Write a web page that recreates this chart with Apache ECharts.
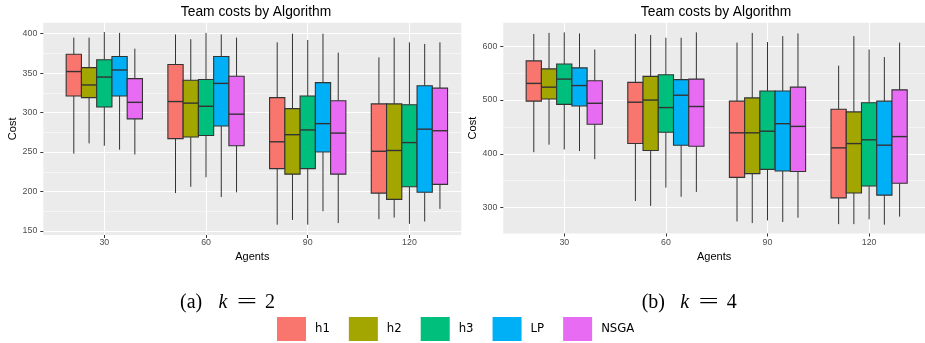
<!DOCTYPE html>
<html>
<head>
<meta charset="utf-8">
<script src="https://cdn.jsdelivr.net/npm/echarts@6/dist/echarts.min.js"></script>
<style>
  html, body { margin: 0; padding: 0; background: #fff; }
  #chart { width: 925px; height: 343px; }
</style>
</head>
<body>
<div id="chart"></div>
<script>
const agents = ['30', '60', '90', '120']
const algorithms = ['h1', 'h2', 'h3', 'LP', 'NSGA']
const colors = ['#F8766D', '#A3A500', '#00BF7D', '#00B0F6', '#E76BF3']
const kValues = ['2', '4']

// box stats per agents level: [min, Q1, median, Q3, max]
// (a) k = 2
const k2H1 = [[248, 321, 352, 374, 395], [198, 267, 314, 361, 399], [158, 229, 263, 319, 389], [165, 198, 251, 311, 370]]
const k2H2 = [[261, 319, 335, 357, 395], [206, 269, 312, 341, 393], [164, 222, 272, 305, 400], [167, 190, 252, 311, 395]]
const k2H3 = [[258, 307, 345, 367, 402], [218, 271, 308, 342, 401], [158, 229, 278, 321, 392], [159, 206, 262, 310, 389]]
const k2LP = [[253, 321, 354, 371, 401], [193, 283, 337, 371, 399], [175, 250, 286, 338, 400], [162, 199, 279, 334, 387]]
const k2NSGA = [[247, 292, 313, 343, 381], [199, 258, 298, 346, 395], [160, 222, 274, 315, 376], [178, 209, 277, 331, 389]]

// (b) k = 4
const k4H1 = [[403, 498, 531, 573, 623], [312, 419, 496, 533, 623], [274, 356, 439, 498, 607], [269, 318, 411, 483, 564]]
const k4H2 = [[417, 502, 524, 558, 625], [303, 406, 500, 544, 621], [271, 363, 439, 504, 625], [269, 327, 419, 478, 619]]
const k4H3 = [[408, 492, 539, 567, 626], [337, 440, 486, 547, 616], [276, 371, 442, 517, 608], [278, 340, 426, 495, 594]]
const k4LP = [[405, 489, 527, 560, 624], [320, 416, 509, 538, 616], [273, 368, 456, 517, 619], [268, 323, 416, 498, 580]]
const k4NSGA = [[390, 455, 494, 536, 594], [329, 414, 488, 539, 626], [281, 367, 451, 524, 624], [283, 345, 432, 519, 607]]

const yTicksK2 = [150, 200, 250, 300, 350, 400]
const yMinorK2 = [175, 225, 275, 325, 375]
const yTicksK4 = [300, 400, 500, 600]
const yMinorK4 = [350, 450, 550]
const xTicks = [1, 2, 3, 4]

const k2Stats = [k2H1, k2H2, k2H3, k2LP, k2NSGA]
const k4Stats = [k4H1, k4H2, k4H3, k4LP, k4NSGA]

const chart = echarts.init(document.getElementById('chart'))

const FONT = 'Liberation Sans, Arial, sans-serif'
const dodge = 0.15 // one box width, in category units

const renderBox = (params, api) => {
  const x = api.value(0)
  const half = dodge / 2
  const top = api.coord([x, api.value(5)])
  const q3 = api.coord([x - half, api.value(4)])
  const med = api.coord([x, api.value(3)])
  const q1 = api.coord([x + half, api.value(2)])
  const bot = api.coord([x, api.value(1)])
  const line = { stroke: '#333', lineWidth: 1 }
  return {
    type: 'group',
    children: [
      { type: 'line', shape: { x1: top[0], y1: top[1], x2: top[0], y2: q3[1] }, style: line },
      { type: 'line', shape: { x1: bot[0], y1: q1[1], x2: bot[0], y2: bot[1] }, style: line },
      {
        type: 'rect',
        shape: { x: q3[0], y: q3[1], width: q1[0] - q3[0], height: q1[1] - q3[1] },
        style: { fill: api.visual('color'), stroke: '#333', lineWidth: 1.1 }
      },
      { type: 'line', shape: { x1: q3[0], y1: med[1], x2: q1[0], y2: med[1] }, style: { stroke: '#333', lineWidth: 1.4 } }
    ]
  }
}

const boxSeries = (stats, panel) => algorithms.map((name, s) => ({
  name,
  type: 'custom',
  xAxisIndex: panel,
  yAxisIndex: panel * 2,
  itemStyle: { color: colors[s] },
  renderItem: renderBox,
  encode: { x: 0, y: [1, 2, 3, 4, 5] },
  data: stats[s].map((row, i) => [i + 1 + (s - 2) * dodge, ...row])
}))

const xAxisOf = (gridIndex, max, margin) => ({
  type: 'value',
  gridIndex,
  min: 0.4,
  max,
  name: 'Agents',
  nameLocation: 'middle',
  nameGap: 14,
  nameTextStyle: { color: '#000', fontSize: 11, fontFamily: FONT },
  axisLine: { show: false },
  axisTick: { show: true, length: 3, customValues: xTicks, lineStyle: { color: '#333' } },
  axisLabel: {
    customValues: xTicks,
    margin,
    color: '#4D4D4D',
    fontSize: 8.8,
    fontFamily: FONT,
    formatter: (v) => agents[Math.round(v) - 1]
  },
  splitLine: { show: true, lineStyle: { color: '#fff', width: 1.1 } }
})

const yAxisOf = (gridIndex, min, max, ticks) => ({
  type: 'value',
  gridIndex,
  min,
  max,
  name: 'Cost',
  nameLocation: 'middle',
  nameGap: 24,
  nameTextStyle: { color: '#000', fontSize: 11, fontFamily: FONT },
  axisLine: { show: false },
  axisTick: { show: true, length: 3, customValues: ticks, lineStyle: { color: '#333' } },
  axisLabel: { customValues: ticks, margin: 6, color: '#4D4D4D', fontSize: 8.8, fontFamily: FONT },
  splitLine: { show: true, lineStyle: { color: '#fff', width: 1.1 } }
})

const minorAxisOf = (gridIndex, min, max, ticks) => ({
  type: 'value',
  gridIndex,
  min,
  max,
  position: 'left',
  axisLine: { show: false },
  axisTick: { show: false, customValues: ticks },
  axisLabel: { show: false, customValues: ticks },
  splitLine: { show: true, lineStyle: { color: '#fff', width: 0.5 } }
})

const caption = (label, k, x0) => [
  { type: 'text', x: x0, y: 303, style: { text: label, font: '20px "Liberation Serif", serif', fill: '#000', verticalAlign: 'middle' } },
  { type: 'text', x: x0 + 38.5, y: 303, style: { text: 'k', font: 'italic 20px "Liberation Serif", serif', fill: '#000', verticalAlign: 'middle' } },
  { type: 'text', x: x0 + 67, y: 303, scaleX: 1.8, style: { text: '=', font: '20px "Liberation Serif", serif', fill: '#000', align: 'center', verticalAlign: 'middle' } },
  { type: 'text', x: x0 + 85, y: 303, style: { text: k, font: '20px "Liberation Serif", serif', fill: '#000', verticalAlign: 'middle' } }
]

const titleText = (x) => ({
  type: 'text', x, y: 12,
  style: { text: 'Team costs by Algorithm', font: '13.8px "Liberation Sans", Arial, sans-serif', fill: '#000', align: 'center', verticalAlign: 'middle' }
})

const options = {
  animation: false,
  grid: [
    { left: 43.3, top: 22.7, width: 418, height: 212.3, show: true, backgroundColor: '#EBEBEB', borderWidth: 0 },
    { left: 503.3, top: 22.7, width: 422.3, height: 210.8, show: true, backgroundColor: '#EBEBEB', borderWidth: 0 }
  ],
  xAxis: [xAxisOf(0, 4.51, 3), xAxisOf(1, 4.55, 4.5)],
  yAxis: [
    yAxisOf(0, 144.9, 413.9, yTicksK2),
    minorAxisOf(0, 144.9, 413.9, yMinorK2),
    yAxisOf(1, 251.6, 644, yTicksK4),
    minorAxisOf(1, 251.6, 644, yMinorK4)
  ],
  legend: {
    data: algorithms,
    left: 277,
    top: 317,
    padding: 0,
    icon: 'rect',
    itemWidth: 29,
    itemHeight: 24,
    itemGap: 19,
    selectedMode: false,
    textStyle: { fontFamily: '"Liberation Sans Narrow", "DejaVu Sans Condensed", sans-serif', fontSize: 13, color: '#000', padding: [0, 0, 0, 4] }
  },
  graphic: [
    titleText(256),
    titleText(716),
    ...caption('(a)', kValues[0], 180),
    ...caption('(b)', kValues[1], 641.7)
  ],
  series: [...boxSeries(k2Stats, 0), ...boxSeries(k4Stats, 1)]
}

chart.setOption(options)
</script>
</body>
</html>
